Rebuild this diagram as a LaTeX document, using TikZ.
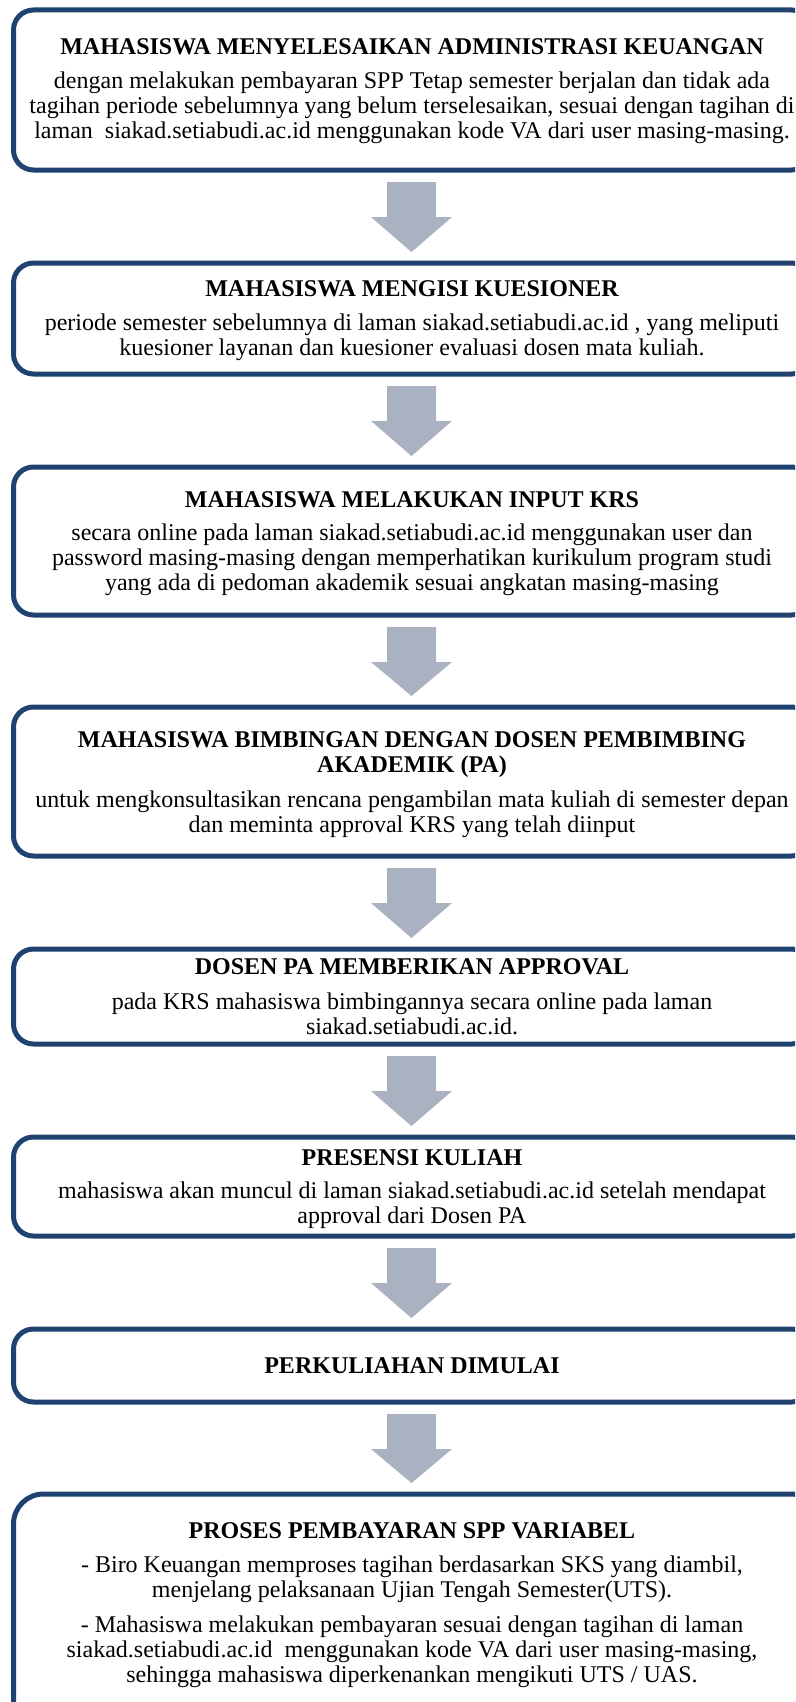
\documentclass[tikz,border=0pt]{standalone}
\usepackage{fontspec}
\setmainfont{Liberation Serif}
\usetikzlibrary{calc}
\definecolor{boxblue}{RGB}{32,66,112}
\definecolor{arrowgray}{RGB}{170,177,192}
\tikzset{
  flowbox/.style={rectangle, draw=boxblue, line width=5pt, rounded corners=20pt,
    outer sep=0pt, inner sep=0pt, minimum width=798pt},
  lastbox/.style={flowbox, rounded corners=30pt, minimum width=807.5pt},
  boxtext/.style={anchor=base, inner sep=0pt, font=\fontsize{24}{25}\selectfont},
  arrowfill/.style={fill=arrowgray, draw=none}
}
\newcommand\flowarrow[2]{%
  \coordinate (tip) at ($(#2.north)+(0,-11)$);
  \coordinate (top) at ($(#1.south)+(-1,12)$);
  \fill[arrowfill] ($(top)+(-24.5,0)$) -- ++(49,0) -- ++(0,35) -- ++(16,0)
    -- (top |- tip) -- ($(top)+(-40.5,35)$) -- ++(16,0) -- cycle;
}
\begin{document}
\begin{tikzpicture}[x=1pt,y=-1pt]
\useasboundingbox (0,0) rectangle (795,1702);
\fill[white] (0,0) rectangle (795,1702);
\clip (0,0) rectangle (795,1702);

% boxes
\node[flowbox, minimum height=160pt] (b1) at (412.5,90) {};
\node[flowbox, minimum height=111pt] (b2) at (412.5,318.5) {};
\node[flowbox, minimum height=148pt] (b3) at (412.5,541) {};
\node[flowbox, minimum height=149pt] (b4) at (412.5,781.5) {};
\node[flowbox, minimum height=95pt]  (b5) at (412.5,996.5) {};
\node[flowbox, minimum height=99pt]  (b6) at (412.5,1186.5) {};
\node[flowbox, minimum height=73pt]  (b7) at (412.5,1365.5) {};
\node[lastbox, minimum height=256pt] (b8) at (417.25,1622) {};

% texts
\node[boxtext] (t1) at (412,55) {\begin{tabular}[t]{@{}c@{}}
\bfseries MAHASISWA MENYELESAIKAN ADMINISTRASI KEUANGAN\\[9pt]
dengan melakukan pembayaran SPP Tetap semester berjalan dan tidak ada\\
tagihan periode sebelumnya yang belum terselesaikan, sesuai dengan tagihan di\\
laman\ \ siakad.setiabudi.ac.id menggunakan kode VA dari user masing-masing.
\end{tabular}};

\node[boxtext] (t2) at (412,296) {\begin{tabular}[t]{@{}c@{}}
\bfseries MAHASISWA MENGISI KUESIONER\\[9pt]
periode semester sebelumnya di laman siakad.setiabudi.ac.id , yang meliputi\\
kuesioner layanan dan kuesioner evaluasi dosen mata kuliah.
\end{tabular}};

\node[boxtext] (t3) at (412,507) {\begin{tabular}[t]{@{}c@{}}
\bfseries MAHASISWA MELAKUKAN INPUT KRS\\[8pt]
secara online pada laman siakad.setiabudi.ac.id menggunakan user dan\\
password masing-masing dengan memperhatikan kurikulum program studi\\
yang ada di pedoman akademik sesuai angkatan masing-masing
\end{tabular}};

\node[boxtext] (t4) at (412,747) {\begin{tabular}[t]{@{}c@{}}
\bfseries MAHASISWA BIMBINGAN DENGAN DOSEN PEMBIMBING\\
\bfseries AKADEMIK (PA)\\[10pt]
untuk mengkonsultasikan rencana pengambilan mata kuliah di semester depan\\
dan meminta approval KRS yang telah diinput
\end{tabular}};

\node[boxtext] (t5) at (412,974) {\begin{tabular}[t]{@{}c@{}}
\bfseries DOSEN PA MEMBERIKAN APPROVAL\\[10pt]
pada KRS mahasiswa bimbingannya secara online pada laman\\
siakad.setiabudi.ac.id.
\end{tabular}};

\node[boxtext] (t6) at (412,1165) {\begin{tabular}[t]{@{}c@{}}
\bfseries PRESENSI KULIAH\\[8pt]
mahasiswa akan muncul di laman siakad.setiabudi.ac.id setelah mendapat\\
approval dari Dosen PA
\end{tabular}};

\node[boxtext] (t7) at (412,1373) {\bfseries PERKULIAHAN DIMULAI};

\node[boxtext] (t8) at (412,1538) {\begin{tabular}[t]{@{}c@{}}
\bfseries PROSES PEMBAYARAN SPP VARIABEL\\[9pt]
- Biro Keuangan memproses tagihan berdasarkan SKS yang diambil,\\
menjelang pelaksanaan Ujian Tengah Semester(UTS).\\[10pt]
- Mahasiswa melakukan pembayaran sesuai dengan tagihan di laman\\
siakad.setiabudi.ac.id\ \ menggunakan kode VA dari user masing-masing,\\
sehingga mahasiswa diperkenankan mengikuti UTS / UAS.
\end{tabular}};

% arrows
\flowarrow{b1}{b2}
\flowarrow{b2}{b3}
\flowarrow{b3}{b4}
\flowarrow{b4}{b5}
\flowarrow{b5}{b6}
\flowarrow{b6}{b7}
\flowarrow{b7}{b8}
\end{tikzpicture}
\end{document}
